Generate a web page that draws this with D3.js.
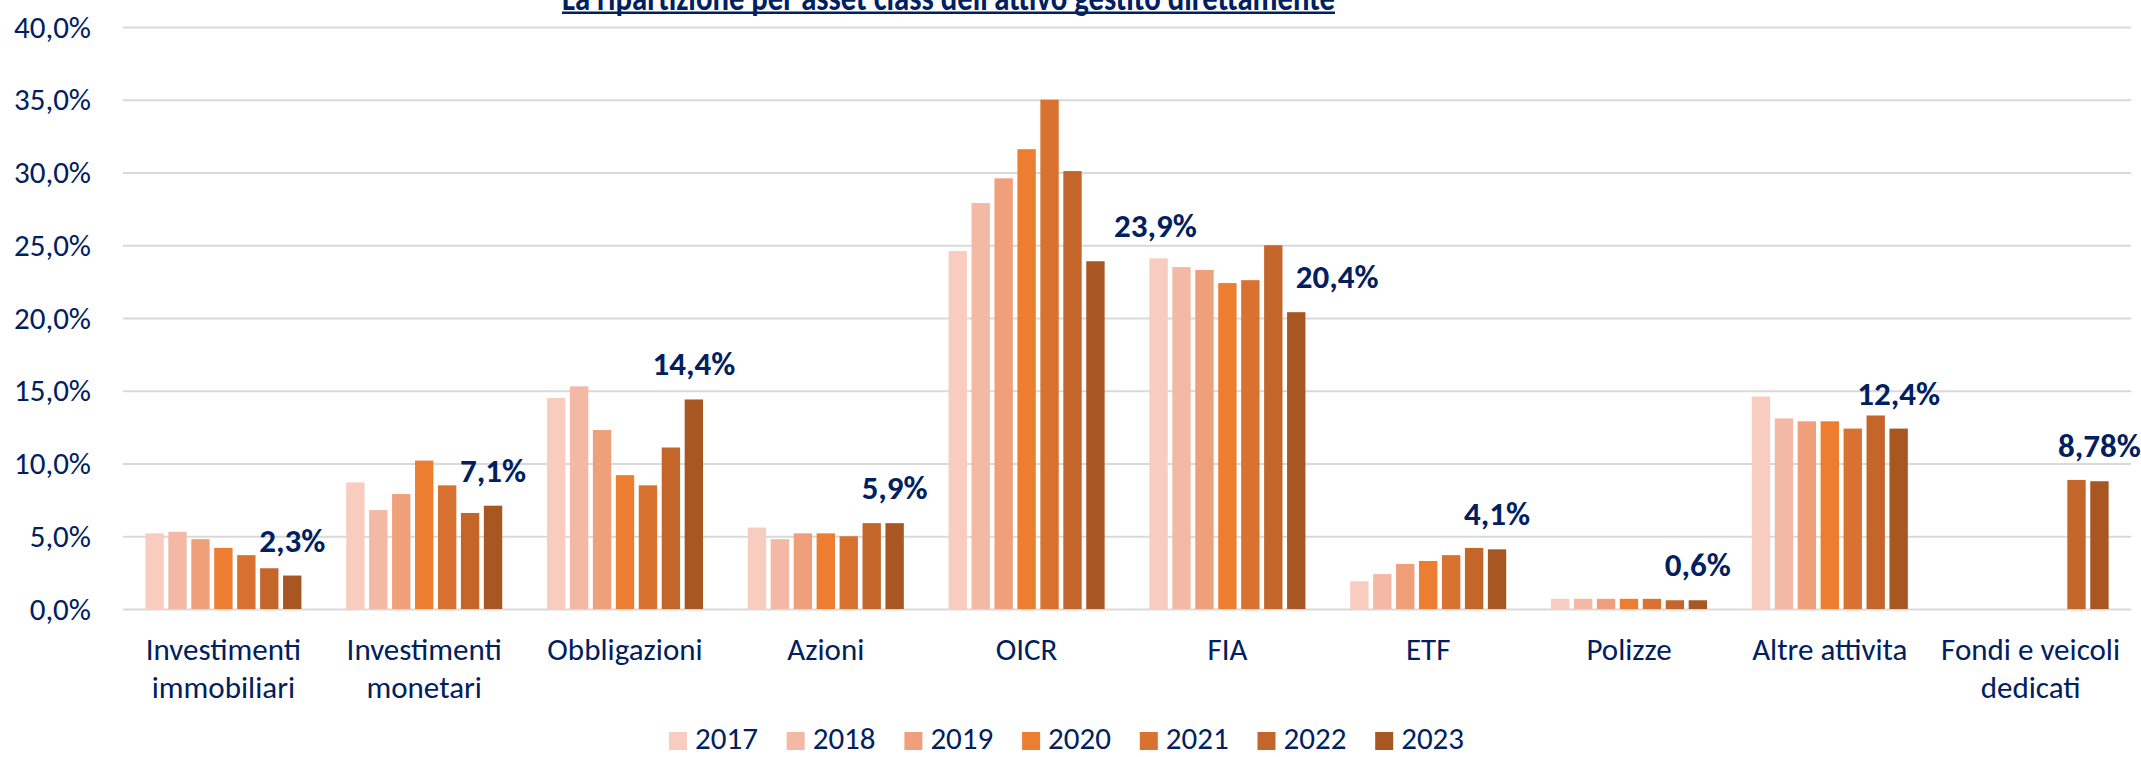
<!DOCTYPE html>
<html>
  <head>
    <meta charset="utf-8">
    <title>La ripartizione per asset class</title>
    <script src="https://d3js.org/d3.v7.min.js"></script>
    <style>
      body { margin: 0; background: #fff; }
      svg { display: block; font-family: Carlito, Calibri, Lato, sans-serif; }
      .grid line { stroke: #D9D9D9; stroke-width: 2.2px; }
      .grid .domain { display: none; }
      .ylab text { font-size: 31px; fill: #002060; }
      .xlab text { font-size: 31px; fill: #002060; }
      .value { font-size: 33px; font-weight: bold; fill: #002060; text-anchor: middle; }
      .legend text { font-size: 31px; fill: #002060; }
      .title { font-size: 37px; font-weight: bold; fill: #002060; }
    </style>
  </head>
  <body>
    <svg width="2141" height="757"></svg>
    <script>
      const categories = ["Investimenti immobiliari", "Investimenti monetari", "Obbligazioni", "Azioni",
        "OICR", "FIA", "ETF", "Polizze", "Altre attivita", "Fondi e veicoli dedicati"];
      const categoryLines = [["Investimenti", "immobiliari"], ["Investimenti", "monetari"], ["Obbligazioni"],
        ["Azioni"], ["OICR"], ["FIA"], ["ETF"], ["Polizze"], ["Altre attivita"], ["Fondi e veicoli", "dedicati"]];
      const years = ["2017", "2018", "2019", "2020", "2021", "2022", "2023"];

      // quote % per anno, una voce per categoria (null = non presente)
      const v2017 = [5.2, 8.7, 14.5, 5.6, 24.6, 24.1, 1.9, 0.7, 14.6, null];
      const v2018 = [5.3, 6.8, 15.3, 4.8, 27.9, 23.5, 2.4, 0.7, 13.1, null];
      const v2019 = [4.8, 7.9, 12.3, 5.2, 29.6, 23.3, 3.1, 0.7, 12.9, null];
      const v2020 = [4.2, 10.2, 9.2, 5.2, 31.6, 22.4, 3.3, 0.7, 12.9, null];
      const v2021 = [3.7, 8.5, 8.5, 5.0, 35.0, 22.6, 3.7, 0.7, 12.4, null];
      const v2022 = [2.8, 6.6, 11.1, 5.9, 30.1, 25.0, 4.2, 0.6, 13.3, 8.87];
      const v2023 = [2.3, 7.1, 14.4, 5.9, 23.9, 20.4, 4.1, 0.6, 12.4, 8.78];
      const series = [v2017, v2018, v2019, v2020, v2021, v2022, v2023];

      const yTicks = [0, 5, 10, 15, 20, 25, 30, 35, 40];
      const colors = ["#F8CCBE", "#F4B9A4", "#F09F7B", "#ED7D31", "#D97130", "#C4662A", "#A85722"];

      // spostamento orizzontale delle etichette 2023 (come nell'originale)
      const labelShift = [0, 0, 0, 0, 60, 41, 0, 0, 0, 0];

      const title = "La ripartizione per asset class dell'attivo gestito direttamente";

      const svg = d3.select("svg");
      const plot = {left: 123, right: 2131, top: 27, bottom: 609};

      const x0 = d3.scaleBand()
        .domain(categories)
        .range([plot.left, plot.right])
        .paddingInner(0.2)
        .paddingOuter(0.1);
      const x1 = d3.scaleBand()
        .domain(years)
        .range([0, x0.bandwidth()])
        .paddingInner(0.2)
        .paddingOuter(0.1);
      const y = d3.scaleLinear()
        .domain([0, 40])
        .range([plot.bottom, plot.top]);

      const pct = v => {
        const d = Math.round(v * 10) === v * 10 ? 1 : 2;
        return v.toFixed(d).replace(".", ",") + "%";
      };

      // griglia
      svg.append("g")
          .attr("class", "grid")
          .attr("transform", `translate(${plot.left},0)`)
          .call(d3.axisLeft(y).tickValues(yTicks).tickSize(-(plot.right - plot.left)).tickFormat(""));

      // etichette asse y
      svg.append("g")
          .attr("class", "ylab")
        .selectAll("text").data(yTicks)
        .enter().append("text")
          .attr("x", 91)
          .attr("y", d => y(d))
          .attr("dy", "0.34em")
          .attr("text-anchor", "end")
          .text(d => d.toFixed(1).replace(".", ",") + "%");

      // barre
      const groups = svg.append("g").selectAll("g").data(categories)
        .enter().append("g")
          .attr("transform", d => `translate(${x0(d)},0)`);
      groups.selectAll("rect")
        .data((c, i) => years.map((yr, j) => ({yr, j, v: series[j][i]})).filter(d => d.v != null))
        .enter().append("rect")
          .attr("x", d => x1(d.yr))
          .attr("y", d => y(d.v))
          .attr("width", x1.bandwidth())
          .attr("height", d => y(0) - y(d.v))
          .attr("fill", d => colors[d.j]);

      // etichette valori 2023
      svg.append("g").selectAll("text").data(categories)
        .enter().append("text")
          .attr("class", "value")
          .attr("x", (c, i) => x0(c) + x1("2023") + x1.bandwidth() / 2 + labelShift[i])
          .attr("y", (c, i) => y(v2023[i]) - 24)
          .text((c, i) => pct(v2023[i]));

      // etichette categorie
      const xl = svg.append("g").attr("class", "xlab");
      categories.forEach((c, i) => {
        const t = xl.append("text")
          .attr("x", x0(c) + x0.bandwidth() / 2)
          .attr("text-anchor", "middle");
        categoryLines[i].forEach((line, k) => {
          t.append("tspan")
            .attr("x", x0(c) + x0.bandwidth() / 2)
            .attr("y", 660 + k * 38)
            .text(line);
        });
      });

      // legenda
      const legend = svg.append("g").attr("class", "legend")
        .selectAll("g").data(years)
        .enter().append("g")
          .attr("transform", (d, i) => `translate(${669 + i * 117.7},732)`);
      legend.append("rect")
          .attr("width", 18)
          .attr("height", 18)
          .attr("fill", (d, i) => colors[i]);
      legend.append("text")
          .attr("x", 26)
          .attr("y", 17)
          .text(d => d);

      // titolo sottolineato
      svg.append("text")
          .attr("class", "title")
          .attr("x", 562)
          .attr("y", 10)
          .attr("textLength", 773)
          .attr("lengthAdjust", "spacingAndGlyphs")
          .text(title);
      svg.append("line")
          .attr("x1", 562).attr("x2", 562 + 773)
          .attr("y1", 12.8).attr("y2", 12.8)
          .attr("stroke", "#002060")
          .attr("stroke-width", 2.4);
    </script>
  </body>
</html>
